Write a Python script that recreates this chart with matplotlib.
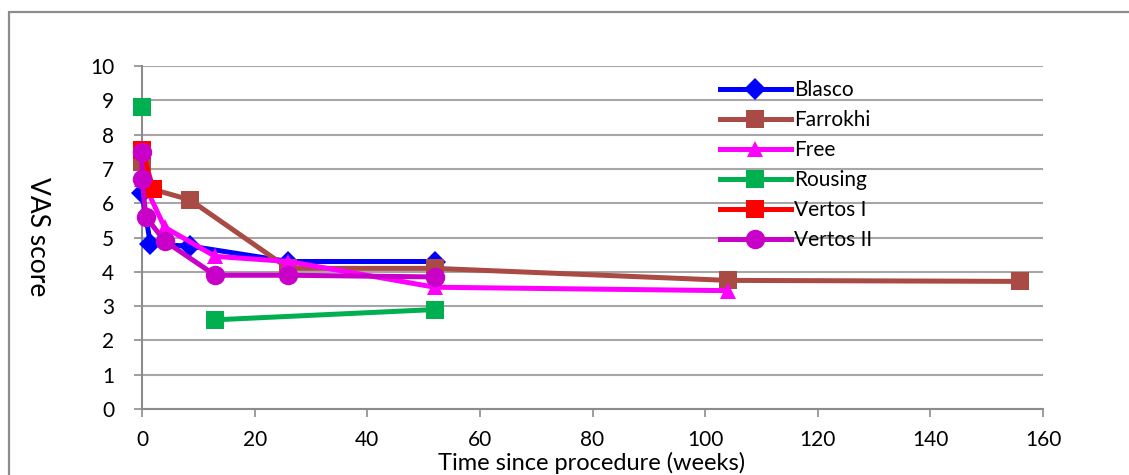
import numpy as np
import matplotlib
matplotlib.use("Agg")
import matplotlib.pyplot as plt
from matplotlib.patches import Rectangle

# VAS score vs time since procedure (weeks)
blasco_x = [0, 1.5, 8.5, 26, 52]
blasco_y = [6.3, 4.8, 4.75, 4.3, 4.3]

farrokhi_x = [0, 2, 8.5, 26, 52, 104, 156]
farrokhi_y = [7.2, 6.4, 6.1, 4.1, 4.1, 3.75, 3.72]

free_x = [0, 4, 13, 26, 52, 104]
free_y = [6.7, 5.3, 4.45, 4.3, 3.55, 3.45]

rousing_x = [0, 4, 13, 52]
rousing_y = [8.8, np.nan, 2.6, 2.9]

vertos1_x = [0, 2]
vertos1_y = [7.55, 6.4]

vertos2_x = [0, 0, 0.7, 4, 13, 26, 52]
vertos2_y = [7.5, 6.7, 5.6, 4.9, 3.9, 3.9, 3.85]

series = [
    ("Blasco", blasco_x, blasco_y, "#0000FF", "D", 11),
    ("Farrokhi", farrokhi_x, farrokhi_y, "#A94A44", "s", 13),
    ("Free", free_x, free_y, "#FF00FF", "^", 12),
    ("Rousing", rousing_x, rousing_y, "#00B050", "s", 13),
    ("Vertos I", vertos1_x, vertos1_y, "#FF0000", "s", 13),
    ("Vertos II", vertos2_x, vertos2_y, "#C800C8", "o", 14),
]

W, H = 1129, 475
fig = plt.figure(figsize=(W / 100, H / 100), dpi=100)
fig.patches.append(Rectangle((9 / W, -0.1), 1.2, 1.1 - 12 / H, transform=fig.transFigure,
                             fill=False, edgecolor="#8C8C8C", linewidth=1.6))

ax = fig.add_axes([142 / W, (H - 409) / H, (1043 - 142) / W, (409 - 66) / H])

for name, x, y, color, marker, ms in series:
    ax.plot(x, y, color=color, marker=marker, markersize=ms, linewidth=3.6,
            markeredgewidth=0, label=name, clip_on=False, zorder=3)

ax.set_xlim(0, 160)
ax.set_ylim(0, 10)
ax.set_xticks(np.arange(0, 161, 20))
ax.set_yticks(np.arange(0, 11, 1))
ax.yaxis.grid(True, color="#A6A6A6", linewidth=1.5)
ax.set_axisbelow(True)
for side in ["top", "right"]:
    ax.spines[side].set_visible(False)
for side in ["left", "bottom"]:
    ax.spines[side].set_color("#8C8C8C")
    ax.spines[side].set_linewidth(1.5)

ax.tick_params(axis="y", length=6, width=1.2, color="#8C8C8C", pad=14, labelsize=15)
ax.tick_params(axis="x", length=6, width=1.2, color="#8C8C8C", pad=9, labelsize=15)
for lab in ax.get_yticklabels():
    lab.set_fontfamily(["Lato", "DejaVu Sans"])
for lab in ax.get_xticklabels():
    lab.set_fontfamily(["Lato", "DejaVu Sans"])

fig.text(37 / W, 1 - 237 / H, "VAS score", rotation=270, ha="center", va="center",
         fontsize=19, family=["Lato", "DejaVu Sans"])
fig.text(592 / W, 1 - 474 / H, "Time since procedure (weeks)", ha="center", va="bottom",
         fontsize=17, family=["Lato", "DejaVu Sans"])

leg = ax.legend(loc="upper left", bbox_to_anchor=((720 - 142) / 901, (409 - 80) / 343),
                frameon=False, borderpad=0, borderaxespad=0, handlelength=3.4,
                handletextpad=0.15, labelspacing=0.48, prop={"family": "Lato", "size": 15})

fig.savefig("out.png", dpi=100)
